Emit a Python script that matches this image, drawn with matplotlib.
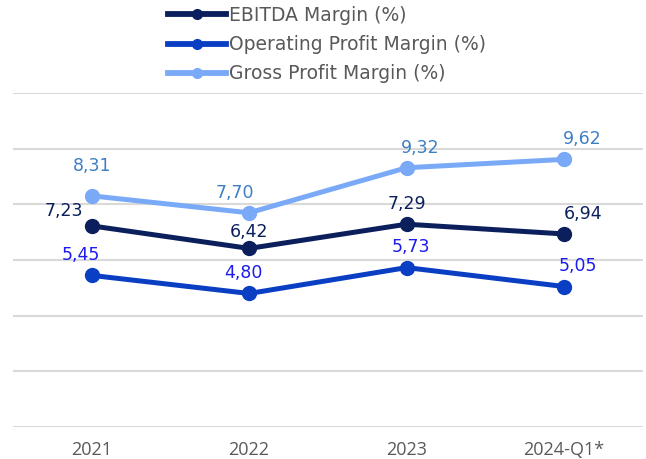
import matplotlib
matplotlib.use("Agg")
import matplotlib.pyplot as plt
from matplotlib.lines import Line2D

# data
periods = ["2021", "2022", "2023", "2024-Q1*"]
ebitda = [7.23, 6.42, 7.29, 6.94]
operating = [5.45, 4.80, 5.73, 5.05]
gross = [8.31, 7.70, 9.32, 9.62]

c_ebitda = "#0b1f5c"
c_oper = "#0a3fc4"
c_gross = "#7aaaf7"

fig = plt.figure(figsize=(6.46, 4.59), dpi=100)
ax = fig.add_axes([0.020, 0.0697, 0.975, 0.7273])

x = range(len(periods))
# label offsets (points) per point, kept apart from the values
series = [
    ("EBITDA Margin (%)", ebitda, c_ebitda, c_ebitda,
     [(-20, 4), (0, 5), (0, 8), (14, 8)]),
    ("Operating Profit Margin (%)", operating, c_oper, "#1c1cf0",
     [(-8, 8), (-4, 8), (3, 8), (10, 8)]),
    ("Gross Profit Margin (%)", gross, c_gross, "#3d7fc2",
     [(0, 15), (-10, 8), (10, 8), (13, 8)]),
]

handles = []
for name, vals, col, lcol, offs in series:
    ax.plot(x, vals, color=col, lw=3.6, marker="o", ms=10, zorder=3)
    for i, v in enumerate(vals):
        ax.annotate(f"{v:.2f}".replace(".", ","), (i, v), xytext=offs[i],
                    textcoords="offset points", ha="center", va="bottom",
                    fontsize=12.5, color=lcol, family="DejaVu Sans")
    handles.append(Line2D([], [], color=col, lw=4.2, marker="o", ms=7))

ax.set_xlim(-0.5, 3.5)
ax.set_ylim(0, 12)
ax.set_yticks(range(0, 13, 2))
ax.set_yticklabels([])
ax.tick_params(axis="y", length=0)
ax.grid(axis="y", color="#d9d9d9", lw=1.5)
ax.set_axisbelow(True)
for s in ax.spines.values():
    s.set_visible(False)
ax.set_xticks(list(x))
ax.set_xticklabels(periods, fontsize=13, color="#595959", family="Open Sans")
ax.tick_params(axis="x", length=0, pad=10)

fig.legend(handles, [s[0] for s in series], loc="upper left",
           bbox_to_anchor=(0.240, 1.016), frameon=False,
           labelcolor="#595959", handlelength=3.1, handletextpad=0.15,
           labelspacing=0.55, borderaxespad=0.3,
           prop={"family": "DejaVu Sans", "size": 13.5})

fig.savefig("out.png", dpi=100)
